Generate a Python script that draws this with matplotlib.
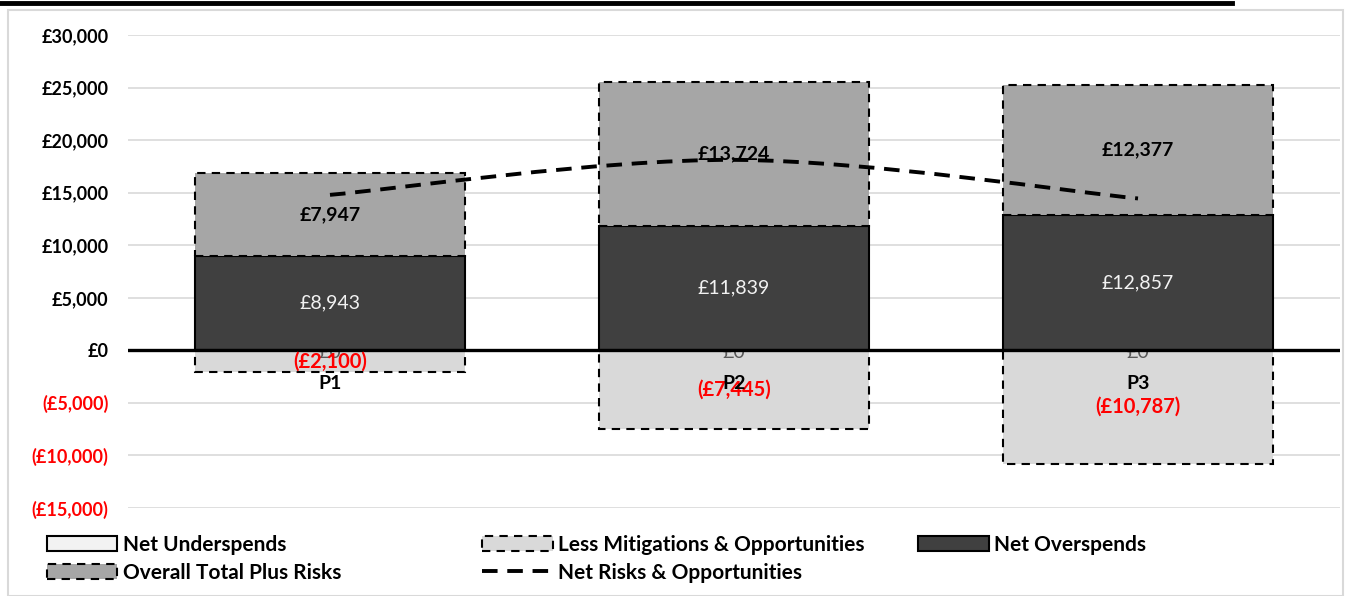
import matplotlib.pyplot as plt
import matplotlib.patches as mpatches
from matplotlib.lines import Line2D
from matplotlib.path import Path
from matplotlib.ticker import FuncFormatter
import numpy as np

plt.rcParams['font.family'] = ['Lato', 'DejaVu Sans']

# ---------------- DATA ----------------
periods = ["P1", "P2", "P3"]
net_underspends = [0, 0, 0]
less_mitigations = [-2100, -7445, -10787]
net_overspends = [8943, 11839, 12857]
total_plus_risks = [7947, 13724, 12377]
net_risks = [14790, 18118, 14447]

y_ticks = list(range(-15000, 30001, 5000))

C_UNDER = "#f2f2f2"
C_MITIG = "#d9d9d9"
C_OVER = "#404040"
C_RISK = "#a6a6a6"


def money(v, pos=None):
    if v < 0:
        return "(£{:,.0f})".format(-v)
    return "£{:,.0f}".format(v)


fig = plt.figure(figsize=(13.5, 5.96), dpi=100)
ax = fig.add_axes([0.0948, 0.1477, 0.8978, 0.7936])

x = np.arange(len(periods))
w = 0.667

# ---------------- BARS ----------------
ax.bar(x, less_mitigations, w, color=C_MITIG, edgecolor="black",
       linestyle=(0, (4, 3)), linewidth=1.5, zorder=2)
ax.bar(x, net_underspends, w, color=C_UNDER, edgecolor="black",
       linewidth=1.2, zorder=2)
for xi, v in zip(x, net_underspends):
    ax.text(xi, v - 250, money(v), ha="center", va="center",
            fontsize=14, color="#595959", zorder=2.5)
ax.bar(x, net_overspends, w, color=C_OVER, edgecolor="black",
       linewidth=1.5, zorder=3)
ax.bar(x, total_plus_risks, w, bottom=net_overspends, color=C_RISK,
       edgecolor="black", linestyle=(0, (4, 3)), linewidth=1.5, zorder=3)

for xi, o, r, m in zip(x, net_overspends, total_plus_risks, less_mitigations):
    ax.text(xi, o / 2, money(o), ha="center", va="center", fontsize=14,
            color="#f2f2f2", zorder=5)
    ax.text(xi, o + r / 2, money(r), ha="center", va="center", fontsize=14,
            color="black", fontweight="bold", zorder=5)
    ax.text(xi, m / 2, money(m), ha="center", va="center", fontsize=14.5,
            color="#ff0000", fontweight="bold", zorder=5)

# ---------------- SMOOTHED LINE ----------------
pts = np.column_stack([x, net_risks]).astype(float)
ext = np.vstack([pts[0], pts, pts[-1]])
verts = [tuple(pts[0])]
codes = [Path.MOVETO]
for i in range(len(pts) - 1):
    p0, p1, p2, p3 = ext[i], ext[i + 1], ext[i + 2], ext[i + 3]
    c1 = p1 + (p2 - p0) / 6
    c2 = p2 - (p3 - p1) / 6
    verts += [tuple(c1), tuple(c2), tuple(p2)]
    codes += [Path.CURVE4] * 3
ax.add_patch(mpatches.PathPatch(Path(verts, codes), fill=False,
                                edgecolor="black", linewidth=2.8,
                                linestyle=(0, (4, 2.5)), zorder=4))

# ---------------- AXES ----------------
ax.set_xlim(-0.5, 2.5)
ax.set_ylim(-15000, 30000)
ax.set_yticks(y_ticks)
ax.yaxis.set_major_formatter(FuncFormatter(money))
ax.grid(axis="y", color="#d9d9d9", linewidth=1.2, zorder=0)
ax.set_axisbelow(True)
ax.axhline(0, color="black", linewidth=2.4, zorder=3.5)
for s in ax.spines.values():
    s.set_visible(False)
ax.tick_params(axis="y", length=0, pad=14, labelsize=13)
ax.set_xticks(x)
ax.set_xticklabels([])
for xi, p in zip(x, periods):
    ax.annotate(p, (xi, 0), xytext=(0, -24), textcoords="offset points",
                ha="center", va="center", fontsize=14, fontweight="bold",
                zorder=6)
ax.tick_params(axis="x", length=0)
for lab, v in zip(ax.get_yticklabels(), y_ticks):
    lab.set_fontweight("bold")
    lab.set_color("#ff0000" if v < 0 else "black")

# ---------------- LEGEND ----------------
h_under = mpatches.Patch(facecolor=C_UNDER, edgecolor="black", linewidth=1.5)
h_mitig = mpatches.Patch(facecolor=C_MITIG, edgecolor="black", linewidth=1.5,
                         linestyle=(0, (4, 3)))
h_over = mpatches.Patch(facecolor=C_OVER, edgecolor="black", linewidth=1.5)
h_risk = mpatches.Patch(facecolor=C_RISK, edgecolor="black", linewidth=1.5,
                        linestyle=(0, (4, 3)))
h_line = Line2D([], [], color="black", linewidth=2.8, linestyle=(0, (4, 2.5)))

cols = [
    ([h_under, h_risk], ["Net Underspends", "Overall Total Plus Risks"], 0.0237),
    ([h_mitig, h_line], ["Less Mitigations & Opportunities", "Net Risks & Opportunities"], 0.346),
    ([h_over], ["Net Overspends"], 0.669),
]
for hs, ls, lx in cols:
    leg = fig.legend(hs, ls, loc="upper left", bbox_to_anchor=(lx, 0.127),
                     frameon=False, handlelength=3.4, handleheight=0.75,
                     handletextpad=0.25, labelspacing=0.38, borderpad=0.2,
                     prop={"size": 15, "weight": "bold"})

# ---------------- FRAME ----------------
fig.add_artist(mpatches.Rectangle((8 / 1350, 0), 1335 / 1350, 1 - 10 / 596,
                                  transform=fig.transFigure, fill=False,
                                  edgecolor="#d9d9d9", linewidth=1.5))
fig.add_artist(Line2D([0, 1232 / 1350], [1 - 3 / 596, 1 - 3 / 596],
                      transform=fig.transFigure, color="black", linewidth=3.5))

fig.savefig("out.png", dpi=100)
